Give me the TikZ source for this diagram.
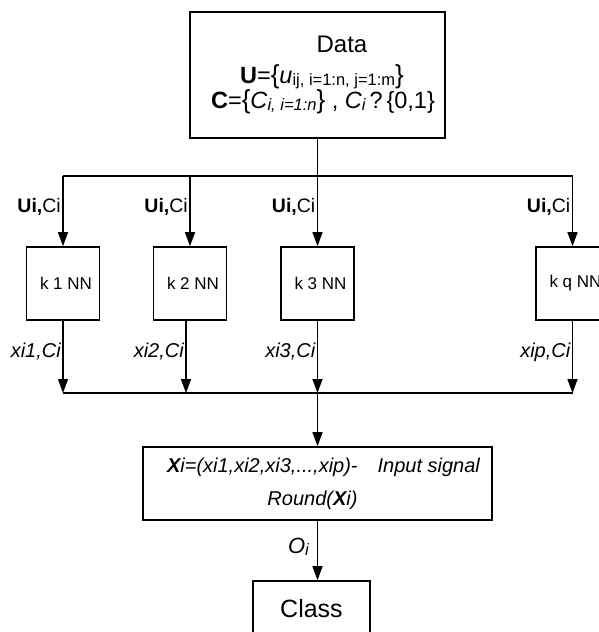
\documentclass[tikz,border=0pt]{standalone}
\usepackage{fontspec}
\setmainfont{Liberation Sans}
\usetikzlibrary{arrows.meta}
\tikzstyle{rec} = [rectangle, draw=black, line width=1.6pt, text centered, inner sep=0pt]
\tikzstyle{arrow} = [line width=1.4pt, -{Triangle[length=14pt,width=10pt]}]
\tikzstyle{line} = [draw, line width=1.4pt]
\tikzstyle{knn} = [rec, minimum size=73, font=\fontsize{17}{19}\selectfont]
\tikzstyle{lbl} = [inner sep=0pt, font=\fontsize{19.5}{22}\selectfont]
\tikzstyle{sig} = [inner sep=0pt, font=\fontsize{20}{22}\selectfont\itshape]
\tikzstyle{settxt} = [anchor=base, inner sep=0pt, font=\fontsize{23.5}{25}\selectfont]
\newcommand{\subtxt}[1]{\raisebox{-2pt}{\fontsize{16.5}{18}\selectfont #1}}
\newcommand{\lbrc}{{\fontsize{26}{27}\selectfont\{}}
\newcommand{\rbrc}{{\fontsize{26}{27}\selectfont\}}}

\begin{document}
\begin{tikzpicture}[x=1pt,y=-1pt]
		\useasboundingbox (0,0) rectangle (598,632);
		\node (data) [rec, minimum width=255, minimum height=126] at (317.5,75) {};
		\node (datatitle) [anchor=base, inner sep=0pt, font=\fontsize{24}{28}\selectfont] at (342,52) {Data};
		\node (uset) [settxt] at (322,83) {\textbf{U}=\lbrc\textit{u}\subtxt{ij, i=1:n, j=1:m}\rbrc};
		\node (cset) [settxt] at (323,108) {\textbf{C}=\lbrc\textit{C}\subtxt{\itshape i, i=1:n}\rbrc\ , \textit{C}\subtxt{\itshape i}\,?\,\{0,1\}};
		\node (k1) [knn] at (63,283.5) {\hspace*{6pt}k 1 NN};
		\node (k2) [knn] at (190,283.5) {\hspace*{6pt}k 2 NN};
		\node (k3) [knn] at (317.5,283.5) {\hspace*{6pt}k 3 NN};
		\node (kq) [knn] at (572.5,283.5) {\hspace*{6pt}k q NN};
		\node (xi) [rec, minimum width=349, minimum height=73, align=center, font=\fontsize{20}{33}\selectfont\itshape] at (317.5,483.5) {\hspace*{12pt}\textbf{X}i=(xi1,xi2,xi3,...,xip)-\hspace{20pt}Input signal\\Round(\textbf{X}i)\hspace*{10pt}};
		\node (class) [rec, minimum width=117, minimum height=56, font=\fontsize{25}{28}\selectfont] at (311.5,609) {Class};
		\coordinate (split) at (317.5,176);
		\coordinate (merge) at (317.5,393);
		% labels on the branches
		\node (u1) [lbl, anchor=base east] at (61,212) {\textbf{Ui,}Ci};
		\node (u2) [lbl, anchor=base east] at (188,212) {\textbf{Ui,}Ci};
		\node (u3) [lbl, anchor=base east] at (315.5,212) {\textbf{Ui,}Ci};
		\node (uq) [lbl, anchor=base east] at (570.5,212) {\textbf{Ui,}Ci};
		\node (x1) [sig, anchor=base east] at (61,357) {xi1,Ci};
		\node (x2) [sig, anchor=base east] at (184,357) {xi2,Ci};
		\node (x3) [sig, anchor=base east] at (315.5,357) {xi3,Ci};
		\node (xq) [sig, anchor=base east] at (570.5,357) {xip,Ci};
		\node (oi) [anchor=base east, inner sep=0pt, font=\fontsize{22}{24}\selectfont\itshape] at (309,553) {O\subtxt{i}};
		\draw [line] (data.south) -- (split);
		\draw [line] (k1.north |- split) -- (kq.north |- split);
		\draw [arrow] (k1.north |- split) -- (k1.north);
		\draw [arrow] (k2.north |- split) -- (k2.north);
		\draw [arrow] (split) -- (k3.north);
		\draw [arrow] (kq.north |- split) -- (kq.north);
		\draw [arrow] (k1.south) -- (k1.south |- merge);
		\draw [arrow] ([xshift=-4]k2.south) -- ([xshift=-4]k2.south |- merge);
		\draw [arrow] (k3.south) -- (merge);
		\draw [arrow] (kq.south) -- (kq.south |- merge);
		\draw [line] (k1.south |- merge) -- (kq.south |- merge);
		\draw [arrow] (merge) -- (xi.north);
		\draw [arrow] (xi.south) -- (xi.south |- class.north);
%		\draw [line] (xi.east) -| (kq.south);
	\end{tikzpicture}
\end{document}
